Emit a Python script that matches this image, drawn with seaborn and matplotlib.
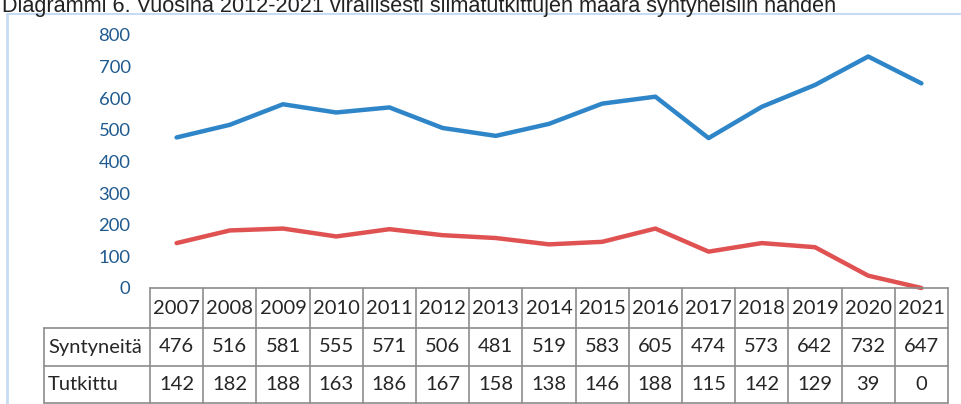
import numpy as np
import pandas as pd
import matplotlib
matplotlib.use("Agg")
import matplotlib.pyplot as plt
import seaborn as sns

years = [2007, 2008, 2009, 2010, 2011, 2012, 2013, 2014, 2015, 2016, 2017, 2018, 2019, 2020, 2021]
syntyneita = [476, 516, 581, 555, 571, 506, 481, 519, 583, 605, 474, 573, 642, 732, 647]
tutkittu = [142, 182, 188, 163, 186, 167, 158, 138, 146, 188, 115, 142, 129, 39, 0]
row_labels = ["Syntyneitä", "Tutkittu"]
title = "Diagrammi 6. Vuosina 2012-2021 virallisesti silmätutkittujen määrä syntyneisiin nähden"

sns.set_style("white")
plt.rcParams['font.family'] = ['Lato', 'DejaVu Sans']

W, H = 961, 404
fig = plt.figure(figsize=(W / 100, H / 100), dpi=100)

def fx(px):
    return px / W

def fy(py):
    return 1 - py / H

# plot area lines up with the table columns
x0, x1 = 150, 948
ax = fig.add_axes([fx(x0), fy(288), fx(x1 - x0), fy(35) - fy(288)])

df = pd.DataFrame({"i": list(range(len(years))) * 2,
                   "value": syntyneita + tutkittu,
                   "serie": [row_labels[0]] * len(years) + [row_labels[1]] * len(years)})
sns.lineplot(data=df, x="i", y="value", hue="serie", palette=["#2e86c8", "#e05252"],
             linewidth=3.2, legend=False, ax=ax, clip_on=False)
ax.set_xlim(-0.5, len(years) - 0.5)
ax.set_ylim(0, 800)
ax.set_yticks(range(0, 801, 100))
ax.set_xticks([])
ax.set_xlabel("")
ax.set_ylabel("")
ax.tick_params(axis="y", length=0, pad=14, labelsize=13.3, labelcolor="#1f5a8f")
for s in ax.spines.values():
    s.set_visible(False)
ax.patch.set_alpha(0)

# table below
col_w = (x1 - x0) / len(years)
rows = [288, 328, 366, 403]
lc = "#8c8c8c"
lw = 1.2
lab_left = 44

def hline(y, xa, xb):
    fig.add_artist(plt.Line2D([fx(xa), fx(xb)], [fy(y), fy(y)], color=lc, lw=lw))

def vline(x, ya, yb):
    fig.add_artist(plt.Line2D([fx(x), fx(x)], [fy(ya), fy(yb)], color=lc, lw=lw))

hline(rows[0], x0, x1)
for y in rows[1:]:
    hline(y, lab_left, x1)
for k in range(len(years) + 1):
    vline(x0 + k * col_w, rows[0], rows[3])
vline(lab_left, rows[1], rows[3])

fs = 14.5
for k, yr in enumerate(years):
    cx = x0 + (k + 0.5) * col_w
    fig.text(fx(cx), fy((rows[0] + rows[1]) / 2), str(yr), ha="center", va="center", fontsize=fs)
    fig.text(fx(cx), fy((rows[1] + rows[2]) / 2), str(syntyneita[k]), ha="center", va="center", fontsize=fs)
    fig.text(fx(cx), fy((rows[2] + rows[3]) / 2), str(tutkittu[k]), ha="center", va="center", fontsize=fs)
for r, lab in enumerate(row_labels):
    fig.text(fx(lab_left + 4), fy((rows[r + 1] + rows[r + 2]) / 2), lab, ha="left", va="center", fontsize=fs)

# light frame of the chart box
frame = "#c6dcf2"
fig.add_artist(plt.Line2D([fx(7), fx(7)], [fy(14), fy(404)], color=frame, lw=2))
fig.add_artist(plt.Line2D([fx(7), fx(961)], [fy(14), fy(14)], color=frame, lw=1.5))

# title cut at the top of the picture
fig.text(fx(2), fy(12), title, ha="left", va="baseline", fontsize=15.6,
         family=["Liberation Sans", "DejaVu Sans"], color="#222222")

fig.savefig("out.png", dpi=100)
